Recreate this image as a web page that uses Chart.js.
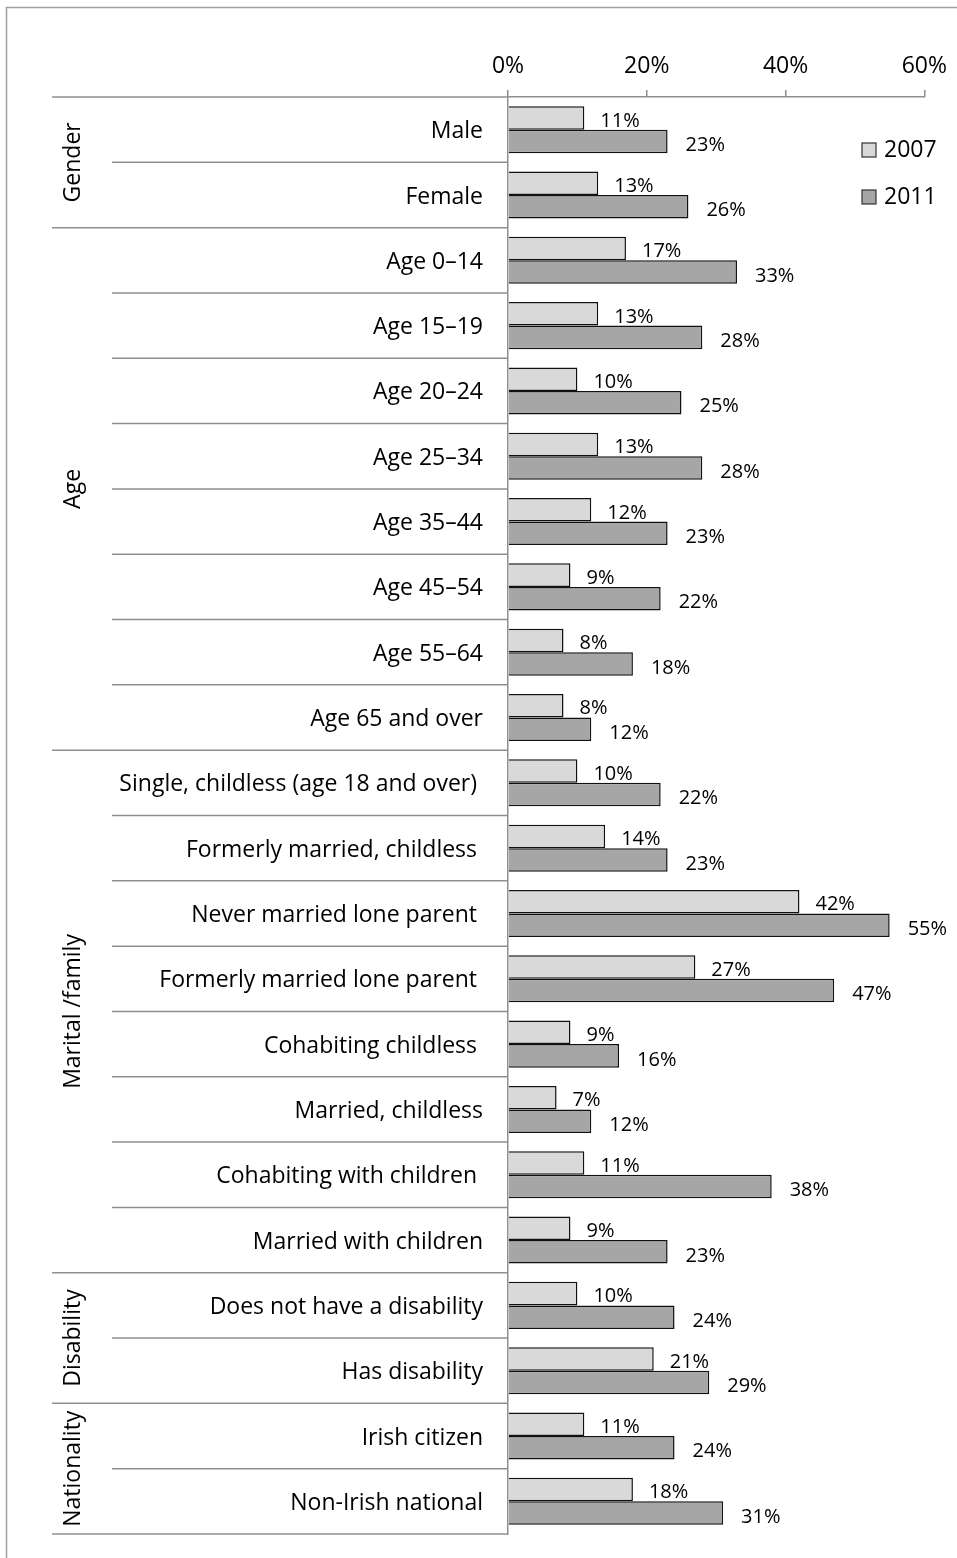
<!DOCTYPE html>
<html>
<head>
<meta charset="utf-8">
<script src="https://cdn.jsdelivr.net/npm/chart.js@4"></script>
<style>
  body { margin: 0; background: #fff; }
  canvas { display: block; }
</style>
</head>
<body>
<canvas id="povertyChart" width="957" height="1558"></canvas>
<script>
const categories = [
  "Male", "Female",
  "Age 0\u201314", "Age 15\u201319", "Age 20\u201324", "Age 25\u201334",
  "Age 35\u201344", "Age 45\u201354", "Age 55\u201364", "Age 65 and over",
  "Single, childless (age 18 and over) ", "Formerly married, childless ",
  "Never married lone parent ", "Formerly married lone parent ",
  "Cohabiting childless ", "Married, childless", "Cohabiting with children ",
  "Married with children",
  "Does not have a disability", "Has disability",
  "Irish citizen", "Non-Irish national"
];
const groupNames = ["Gender", "Age", "Marital /family", "Disability", "Nationality"];
const groupSizes = [2, 8, 8, 2, 2];

const seriesNames = ["2007", "2011"];
const values2007 = [11, 13, 17, 13, 10, 13, 12, 9, 8, 8, 10, 14, 42, 27, 9, 7, 11, 9, 10, 21, 11, 18];
const values2011 = [23, 26, 33, 28, 25, 28, 23, 22, 18, 12, 22, 23, 55, 47, 16, 12, 38, 23, 24, 29, 24, 31];
const xTicks = [0, 20, 40, 60];

const FONT = "'Open Sans'";
const LINE = "#8f8f8f";

// separators, group names, value labels and the legend
const decorations = {
  id: "decorations",
  afterDraw(chart) {
    const { ctx } = chart;
    const y = chart.scales.y;
    const row = y.getPixelForValue(1) - y.getPixelForValue(0);
    const axisX = chart.chartArea.left;

    ctx.save();
    // outer frame (top and left edges)
    ctx.strokeStyle = "#a0a0a0";
    ctx.lineWidth = 1.5;
    ctx.beginPath();
    ctx.moveTo(6.5, 1558);
    ctx.lineTo(6.5, 7.5);
    ctx.lineTo(957, 7.5);
    ctx.stroke();

    // row separators: long at group boundaries, short inside groups
    const groupStarts = new Set([0]);
    let acc = 0;
    groupSizes.forEach(n => { acc += n; groupStarts.add(acc); });
    ctx.strokeStyle = LINE;
    ctx.lineWidth = 1.5;
    for (let i = 0; i <= categories.length; i++) {
      const yy = y.getPixelForValue(i) - row / 2;
      const x0 = groupStarts.has(i) ? 52 : 112;
      ctx.beginPath();
      ctx.moveTo(x0, yy);
      ctx.lineTo(axisX, yy);
      ctx.stroke();
    }

    // rotated group names
    ctx.fillStyle = "#000";
    ctx.font = "23px " + FONT;
    ctx.textAlign = "center";
    ctx.textBaseline = "middle";
    let start = 0;
    groupNames.forEach((name, g) => {
      const end = start + groupSizes[g] - 1;
      const cy = (y.getPixelForValue(start) + y.getPixelForValue(end)) / 2;
      ctx.save();
      ctx.translate(73, cy);
      ctx.rotate(-Math.PI / 2);
      ctx.fillText(name, 0, 0);
      ctx.restore();
      start = end + 1;
    });

    // value labels beside each bar
    ctx.font = "20px " + FONT;
    ctx.textAlign = "left";
    chart.data.datasets.forEach((ds, d) => {
      const meta = chart.getDatasetMeta(d);
      meta.data.forEach((bar, i) => {
        const dx = d === 0 ? 16 : 18;
        const dy = d === 0 ? 3 : 4;
        ctx.fillText(ds.data[i] + "%", bar.x + dx, bar.y + dy);
      });
    });

    // legend
    ctx.font = "23px " + FONT;
    chart.data.datasets.forEach((ds, d) => {
      const cy = 150 + d * 47;
      ctx.fillStyle = ds.backgroundColor;
      ctx.fillRect(862, cy - 7, 14, 14);
      ctx.strokeStyle = "#333";
      ctx.lineWidth = 1.2;
      ctx.strokeRect(862, cy - 7, 14, 14);
      ctx.fillStyle = "#000";
      ctx.fillText(ds.label, 884, cy);
    });
    ctx.restore();
  }
};

new Chart(document.getElementById("povertyChart"), {
  type: "bar",
  data: {
    labels: categories,
    datasets: [
      {
        label: seriesNames[0],
        data: values2007,
        backgroundColor: "#d9d9d9",
        borderColor: "#111",
        borderWidth: 1.5,
        categoryPercentage: 0.72,
        barPercentage: 1.0
      },
      {
        label: seriesNames[1],
        data: values2011,
        backgroundColor: "#a6a6a6",
        borderColor: "#111",
        borderWidth: 1.5,
        categoryPercentage: 0.72,
        barPercentage: 1.0
      }
    ]
  },
  options: {
    indexAxis: "y",
    responsive: false,
    animation: false,
    devicePixelRatio: 1,
    layout: { padding: { left: 0, right: 31, top: 0, bottom: 24 } },
    plugins: {
      legend: { display: false },
      tooltip: { enabled: false }
    },
    scales: {
      x: {
        position: "top",
        min: xTicks[0],
        max: xTicks[xTicks.length - 1],
        afterBuildTicks: scale => { scale.ticks = xTicks.map(v => ({ value: v })); },
        afterFit: scale => { scale.height = 97; },
        ticks: {
          callback: v => v + "%",
          color: "#000",
          font: { family: "Open Sans", size: 23 },
          padding: 10
        },
        grid: {
          drawOnChartArea: false,
          drawTicks: true,
          tickLength: 7,
          color: LINE,
          lineWidth: 1.5
        },
        border: { display: true, color: LINE, width: 1.5 }
      },
      y: {
        afterFit: scale => {
          scale.width = 508;
          // rows fill the whole height, no room kept for label overhang
          scale.paddingTop = 0;
          scale.paddingBottom = 0;
        },
        ticks: {
          color: "#000",
          font: { family: "Open Sans", size: 23 },
          padding: 25,
          labelOffset: 2,
          autoSkip: false
        },
        grid: { display: false, drawTicks: false },
        border: { display: true, color: LINE, width: 1.5 }
      }
    }
  },
  plugins: [decorations]
});
</script>
</body>
</html>
